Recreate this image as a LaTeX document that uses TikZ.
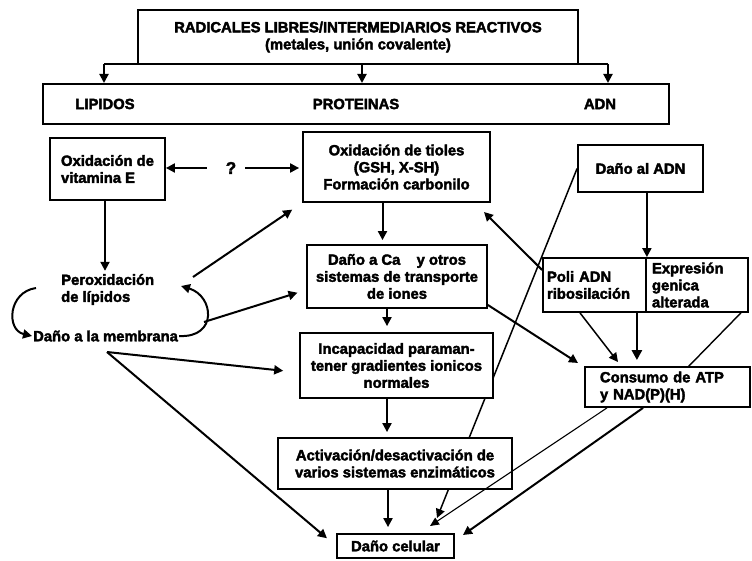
\documentclass[tikz,border=0pt]{standalone}
\usepackage{fontspec}
\setmainfont{Liberation Sans}[BoldFeatures={FakeBold=2.5}]
\usetikzlibrary{arrows.meta,backgrounds}
\begin{document}
\begin{tikzpicture}[x=1pt,y=-1pt,
  font=\fontsize{14.8}{17}\selectfont\bfseries,
  box/.style={draw, line width=1.8pt, fill=white, inner sep=2pt, align=center},
  lbl/.style={inner sep=1pt},
  arr/.style={line width=2pt, -{Triangle[length=9pt,width=9pt]}},
  arrmed/.style={line width=1.5pt, -{Triangle[length=9pt,width=9pt]}},
  arrthin/.style={line width=1.1pt, -{Triangle[length=9pt,width=8pt]}},
  arrthick/.style={line width=2.6pt, -{Triangle[length=10pt,width=10pt]}},
  ln/.style={line width=1.4pt}]
\useasboundingbox (0,0) rectangle (752,561);

% boxes
\node[box, minimum width=440pt, minimum height=54pt] (top) at (358,37) {RADICALES LIBRES/INTERMEDIARIOS REACTIVOS\\(metales, unión covalente)};
\node[box, minimum width=626pt, minimum height=40pt] (cat) at (356,104) {};
\node[lbl] (lip) at (105,104) {LIPIDOS};
\node[lbl] (prot) at (356,104) {PROTEINAS};
\node[lbl] (adnl) at (600,104) {ADN};

\node[box, align=left, minimum width=115pt, minimum height=62pt] (vitE) at (107.5,169) {Oxidación de\\vitamina E};
\node[box, minimum width=187pt, minimum height=70pt] (tioles) at (396.5,167) {Oxidación de tioles\\(GSH, X-SH)\\Formación carbonilo};
\node[box, minimum width=125pt, minimum height=47pt] (adn) at (640.5,168.5) {Daño al ADN};
\node[lbl, font=\fontsize{17}{19}\selectfont\bfseries] (q) at (231,168) {?};

\node[lbl, anchor=west, align=left] (perox) at (60,289.5) {Peroxidación\\de lípidos};
\node[lbl, anchor=west] (memb) at (32,336) {Daño a la membrana};

\node[box, minimum width=180pt, minimum height=63pt] (dca) at (397,276.5) {Daño a Ca\hspace{1.1em}y otros\\sistemas de transporte\\de iones};
\node[box, align=left, text width=95pt, inner xsep=4pt, minimum height=54pt] (poli) at (594.5,285) {Poli ADN\\ribosilación};
\node[box, align=left, text width=90pt, inner xsep=6pt, minimum height=54pt] (expr) at (697,285) {Expresión\\genica\\alterada};
\node[box, minimum width=193pt, minimum height=65pt] (incap) at (396.5,365.5) {Incapacidad paraman-\\tener gradientes ionicos\\normales};
\node[box, align=left, text width=135pt, inner xsep=15pt, minimum height=40pt] (cons) at (667.5,387) {Consumo de ATP\\y NAD(P)(H)};
\node[box, minimum width=234pt, minimum height=51pt] (activ) at (395,463.5) {Activación/desactivación de\\varios sistemas enzimáticos};
\node[box, minimum width=117pt, minimum height=24pt] (cel) at (395.5,546) {Daño celular};

% coordinates
\coordinate (h1) at (104,64); \coordinate (h2) at (362,64); \coordinate (h3) at (608,64);
\coordinate (a1) at (104,83); \coordinate (a2) at (362,83); \coordinate (a3) at (608,83);
\coordinate (lp1) at (36,288);
\coordinate (rp1) at (181,286);
\coordinate (p1) at (193,277);
\coordinate (p2) at (204,322);
\coordinate (m1) at (107,352);
\coordinate (tq) at (484,212);
\coordinate (t1) at (437,518);
\coordinate (t2) at (578,363);
\coordinate (t3) at (618,362);
\coordinate (t4) at (688,367);
\coordinate (t5) at (430,526);
\coordinate (t6) at (463,535);

\begin{scope}[on background layer]
\fill[white] (0,0) rectangle (752,561);
\draw[arrmed] (adn.west) -- (t1);
\end{scope}

% top distribution
\draw[line width=1.8pt] (h1) -- (h3);
\draw[arr] (h1) -- (a1);
\draw[arr] (h2) -- (a2);
\draw[arr] (h3) -- (a3);

% ? arrows
\draw[arr, shorten <=18pt] (q.west) -- (q.west -| vitE.east);
\draw[arr, shorten <=8pt, shorten >=3pt] (q.east) -- (q.east -| tioles.west);

% left column
\draw[arr, shorten >=2pt] ([xshift=-2.5pt]vitE.south) -- ([xshift=-2.5pt]vitE.south |- perox.north);
\draw[arr] (lp1) .. controls (8,292) and (6,330) .. (memb.west);
\draw[arr] (memb.east) .. controls (218,338) and (214,296) .. (rp1);
\draw[arr, shorten >=12pt] (p1) -- (tioles.south west);
\draw[arr, shorten >=9pt] (p2) -- ([yshift=-13.5pt]dca.west);
\draw[arr, shorten >=16pt] (m1) -- ([yshift=-7pt]incap.west);
\draw[arr, shorten >=12pt] (m1) -- (cel.west);

% middle column
\draw[arr, shorten >=4pt] ([xshift=-14pt]tioles.south) -- ([xshift=-14.5pt]dca.north);
\draw[arr, shorten >=6pt] ([xshift=-10pt]dca.south) -- ([xshift=-9.5pt]incap.north);
\draw[arr, shorten >=5pt] ([xshift=-9.5pt]incap.south) -- ([xshift=-8pt]activ.north);
\draw[arr, shorten >=6pt] ([xshift=-7pt]activ.south) -- ([xshift=-7.5pt]cel.north);

% right column
\draw[arr] (poli.north east |- adn.south) -- (poli.north east);
\draw[arr] ([yshift=15pt]poli.west) -- (tq);
\draw[arr] ([yshift=-28.5pt]dca.east) -- (t2);
\draw[arrmed] ([xshift=-14.5pt]poli.south) -- (t3);
\draw[arrthick, shorten >=6pt] ([xshift=-10pt]poli.south east) -- ([xshift=-10pt]poli.south east |- cons.north);
\draw[ln] ([xshift=-8pt]expr.south east) -- (t4);
\draw[arrthin] ([xshift=-60.5pt]cons.south) -- (t5);
\draw[arr] ([xshift=-24.5pt]cons.south) -- (t6);
\end{tikzpicture}
\end{document}
